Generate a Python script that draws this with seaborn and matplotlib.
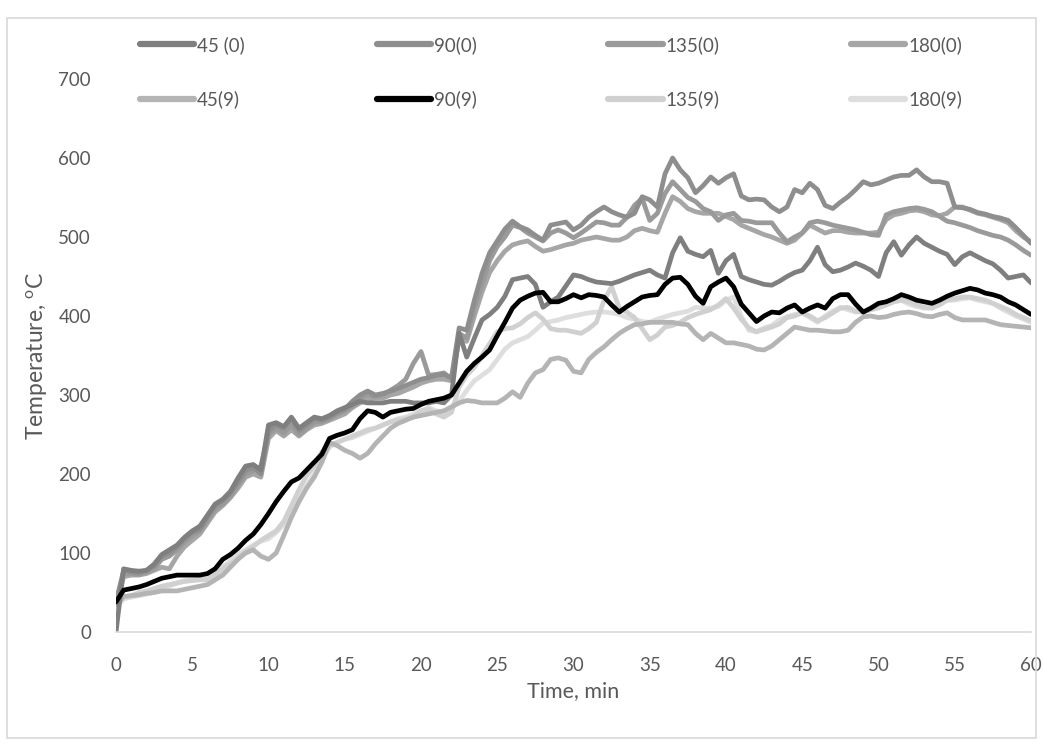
import numpy as np
import pandas as pd
import matplotlib
matplotlib.use("Agg")
import matplotlib.pyplot as plt
import seaborn as sns
from matplotlib.lines import Line2D
from matplotlib.patches import Rectangle

# ---------------- data ----------------
time_min = np.arange(0, 60.5, 0.5)

s45_0 = [0, 80, 78, 77, 78, 86, 98, 104, 110, 120,
         128, 134, 148, 162, 168, 178, 195, 210, 212, 205,
         262, 265, 260, 272, 258, 265, 272, 270, 274, 280,
         284, 288, 292, 290, 290, 290, 292, 292, 292, 290,
         290, 290, 292, 290, 300, 378, 348, 372, 395, 402,
         411, 425, 446, 448, 450, 440, 411, 418, 424, 438,
         452, 450, 446, 443, 442, 441, 444, 448, 452, 455,
         458, 452, 448, 480, 499, 482, 478, 475, 483, 454,
         470, 478, 450, 446, 443, 440, 439, 444, 450, 455,
         458, 470, 487, 465, 456, 458, 462, 467, 463, 458,
         450, 480, 494, 477, 490, 500, 492, 487, 482, 478,
         465, 475, 480, 475, 470, 466, 458, 448, 450, 452,
         442]

s90_0 = [38, 78, 76, 75, 78, 84, 96, 100, 108, 118,
         126, 130, 146, 160, 166, 176, 190, 205, 208, 200,
         255, 262, 258, 270, 255, 262, 270, 268, 272, 278,
         282, 292, 300, 305, 300, 302, 305, 308, 312, 316,
         320, 322, 325, 326, 322, 385, 382, 420, 454, 480,
         495, 510, 520, 513, 509, 502, 496, 515, 517, 519,
         509, 515, 525, 532, 538, 532, 528, 525, 530, 551,
         547, 538, 580, 600, 585, 575, 556, 565, 576, 568,
         575, 580, 552, 547, 548, 547, 538, 532, 538, 560,
         556, 568, 560, 540, 536, 544, 551, 560, 570, 566,
         568, 572, 576, 578, 578, 585, 576, 570, 570, 568,
         538, 537, 535, 531, 529, 526, 524, 521, 512, 502,
         492]

s135_0 = [36, 74, 74, 73, 76, 80, 92, 96, 104, 114,
          122, 128, 142, 156, 162, 172, 186, 200, 204, 210,
          250, 258, 252, 262, 250, 258, 266, 266, 270, 276,
          280, 286, 296, 300, 298, 300, 306, 312, 320, 340,
          355, 325, 326, 328, 320, 378, 372, 410, 440, 470,
          488, 500, 515, 512, 505, 500, 495, 505, 509, 505,
          499, 505, 512, 519, 518, 515, 515, 525, 540, 549,
          521, 530, 555, 570, 560, 550, 545, 536, 532, 521,
          528, 530, 521, 520, 518, 518, 518, 505, 494, 500,
          505, 518, 520, 518, 515, 513, 511, 509, 506, 503,
          502, 528, 532, 534, 536, 537, 535, 532, 526, 520,
          518, 515, 512, 508, 505, 502, 500, 496, 490, 483,
          477]

s180_0 = [35, 70, 72, 72, 74, 78, 82, 80, 96, 108,
          116, 124, 138, 152, 160, 170, 182, 196, 200, 196,
          245, 255, 248, 256, 248, 256, 262, 264, 268, 272,
          276, 284, 290, 294, 296, 296, 300, 302, 306, 310,
          315, 318, 320, 320, 318, 370, 368, 400, 430, 455,
          470, 482, 490, 493, 495, 488, 482, 484, 487, 490,
          492, 496, 498, 500, 498, 496, 496, 500, 508, 511,
          508, 506, 530, 551, 545, 536, 532, 530, 530, 530,
          526, 522, 515, 511, 507, 503, 500, 496, 492, 496,
          505, 515, 510, 505, 508, 508, 506, 505, 505, 505,
          506, 522, 528, 530, 533, 534, 532, 528, 527, 530,
          538, 538, 534, 530, 528, 525, 522, 518, 508, 500,
          494]

s45_9 = [35, 45, 46, 47, 49, 50, 52, 52, 52, 54,
         56, 58, 60, 66, 72, 82, 92, 100, 104, 96,
         92, 100, 122, 145, 165, 182, 196, 215, 240, 236,
         230, 226, 220, 226, 238, 248, 258, 264, 268, 272,
         274, 276, 278, 280, 285, 290, 293, 292, 290, 290,
         290, 296, 304, 297, 315, 328, 332, 345, 347, 344,
         330, 328, 345, 354, 361, 370, 378, 384, 389, 390,
         392, 392, 392, 392, 390, 389, 378, 370, 378, 372,
         366, 366, 364, 362, 358, 357, 362, 370, 378, 386,
         384, 382, 382, 381, 380, 380, 382, 392, 399, 400,
         398, 399, 402, 404, 405, 403, 400, 399, 402, 404,
         398, 395, 395, 395, 395, 392, 389, 388, 387, 386,
         385]

s90_9 = [38, 53, 55, 57, 60, 64, 68, 70, 72, 72,
         72, 72, 74, 80, 92, 98, 106, 116, 124, 136,
         150, 165, 178, 190, 195, 205, 215, 225, 245, 249,
         252, 256, 270, 280, 278, 272, 278, 280, 282, 283,
         288, 292, 294, 296, 300, 315, 330, 340, 348, 357,
         375, 392, 410, 420, 425, 429, 430, 418, 418, 422,
         427, 423, 427, 426, 424, 414, 405, 412, 418, 424,
         426, 427, 440, 448, 449, 440, 425, 416, 437, 443,
         448, 437, 415, 404, 393, 400, 405, 404, 410, 414,
         405, 410, 414, 410, 422, 427, 427, 415, 405, 410,
         416, 418, 422, 427, 424, 420, 418, 416, 420, 425,
         429, 432, 435, 433, 429, 427, 424, 418, 414, 408,
         402]

s135_9 = [33, 44, 46, 50, 52, 55, 58, 60, 62, 64,
          65, 66, 66, 72, 80, 86, 94, 102, 108, 116,
          122, 128, 140, 160, 180, 198, 210, 228, 236, 240,
          244, 248, 252, 256, 258, 262, 266, 268, 270, 272,
          280, 282, 276, 272, 278, 310, 325, 335, 350, 365,
          380, 384, 385, 390, 398, 404, 396, 384, 382, 382,
          380, 378, 384, 392, 420, 437, 410, 405, 398, 384,
          370, 376, 386, 388, 392, 398, 402, 405, 408, 414,
          422, 410, 396, 385, 380, 383, 386, 390, 398, 400,
          404, 400, 394, 398, 404, 410, 411, 406, 405, 408,
          411, 414, 418, 420, 418, 414, 411, 410, 414, 420,
          422, 424, 424, 422, 420, 416, 412, 408, 402, 398,
          394]

s180_9 = [30, 42, 44, 46, 48, 50, 54, 58, 62, 65,
          66, 67, 68, 74, 82, 90, 98, 104, 110, 115,
          118, 126, 136, 150, 168, 185, 200, 218, 234, 240,
          244, 246, 250, 254, 258, 262, 266, 270, 272, 276,
          280, 284, 280, 278, 284, 292, 306, 318, 325, 332,
          345, 358, 366, 370, 374, 382, 391, 393, 395, 398,
          400, 402, 404, 405, 405, 404, 402, 398, 396, 393,
          392, 396, 399, 402, 404, 406, 411, 410, 410, 412,
          420, 424, 400, 382, 380, 385, 388, 395, 399, 402,
          404, 398, 392, 400, 406, 411, 408, 405, 405, 408,
          410, 414, 418, 420, 415, 412, 410, 410, 416, 420,
          420, 422, 423, 420, 418, 416, 410, 405, 400, 396,
          392]

series_names = ["45 (0)", "90(0)", "135(0)", "180(0)",
                "45(9)", "90(9)", "135(9)", "180(9)"]
series_values = [s45_0, s90_0, s135_0, s180_0, s45_9, s90_9, s135_9, s180_9]
series_colors = ["#7f7f7f", "#8e8e8e", "#9a9a9a", "#a6a6a6",
                 "#b4b4b4", "#000000", "#d0d0d0", "#dedede"]
x_ticks = list(range(0, 61, 5))
y_ticks = list(range(0, 701, 100))

# ---------------- build frame ----------------
frames = []
for name, vals in zip(series_names, series_values):
    frames.append(pd.DataFrame({"Time": time_min, "Temp": vals, "Series": name}))
df = pd.concat(frames, ignore_index=True)
palette = dict(zip(series_names, series_colors))

# ---------------- style ----------------
sns.set_theme(style="white")
plt.rcParams["font.family"] = ["Lato", "DejaVu Sans"]
plt.rcParams["mathtext.fontset"] = "custom"
plt.rcParams["mathtext.rm"] = "Lato"

text_color = "#595959"
fig = plt.figure(figsize=(10.43, 7.44), dpi=100)
ax = fig.add_axes([116 / 1043, 1 - 632 / 744, (1031 - 116) / 1043, (632 - 79) / 744])

# draw order: lighter series first so dark ones sit on top like the reference
draw_order = ["180(9)", "135(9)", "45(9)", "180(0)", "135(0)", "90(0)", "45 (0)", "90(9)"]
for name in draw_order:
    sns.lineplot(data=df[df["Series"] == name], x="Time", y="Temp",
                 color=palette[name], linewidth=3.4, ax=ax, legend=False,
                 solid_joinstyle="round", solid_capstyle="round")

ax.set_xlim(0, 60)
ax.set_ylim(0, 700)
ax.set_xticks(x_ticks)
ax.set_yticks(y_ticks)
ax.tick_params(axis="y", length=0, labelsize=13.5, colors=text_color, pad=18)
ax.tick_params(axis="x", length=0, labelsize=13.5, colors=text_color, pad=18)
for sp in ["top", "right", "left"]:
    ax.spines[sp].set_visible(False)
ax.spines["bottom"].set_color("#d9d9d9")
ax.spines["bottom"].set_linewidth(1.2)
ax.grid(False)

ax.set_xlabel("Time, min", fontsize=15.5, color=text_color, labelpad=5)
ax.set_ylabel("Temperature, $^{\\mathrm{o}}$C", fontsize=16.5, color=text_color, labelpad=6)

# legend: 2 rows x 4 columns (matplotlib fills column-wise)
handles = {n: Line2D([0], [0], color=palette[n], lw=4.5, solid_capstyle="round") for n in series_names}
leg_order = ["45 (0)", "45(9)", "90(0)", "90(9)", "135(0)", "135(9)", "180(0)", "180(9)"]
top = 1 - 36 / 744
fig.legend([handles[n] for n in leg_order], leg_order, ncol=4, frameon=False,
           loc="upper left", bbox_to_anchor=(140 / 1043, top - 0.1, (962 - 140) / 1043, 0.1),
           mode="expand", fontsize=13.5, labelcolor=text_color, handlelength=2.9,
           handletextpad=0.15, labelspacing=1.95, borderaxespad=0, borderpad=0)

# outer chart border
fig.patches.append(Rectangle((7 / 1043, 1 - 738 / 744), (1036 - 7) / 1043, (738 - 18) / 744,
                             transform=fig.transFigure, fill=False, edgecolor="#d9d9d9", lw=1.2))

fig.savefig("out.png", dpi=100, facecolor="white")
